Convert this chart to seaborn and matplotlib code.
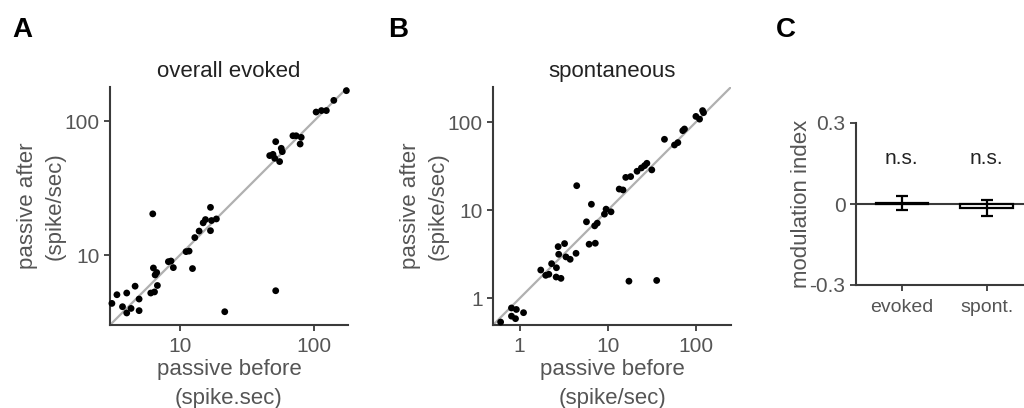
import numpy as np
import pandas as pd
import matplotlib
matplotlib.use("Agg")
import matplotlib.pyplot as plt
from matplotlib.ticker import NullLocator, FixedLocator, FixedFormatter
import seaborn as sns

# ---------------- data ----------------
evoked_before = [3.1, 3.38, 4.0, 3.72, 4.0, 4.31, 4.62, 4.95, 4.95, 6.05,
                 6.45, 6.78, 6.52, 6.7, 6.33, 6.26, 8.19, 8.57, 8.92, 11.1,
                 11.7, 12.4, 12.9, 13.9, 14.9, 15.5, 16.9, 17.2, 16.9, 18.7,
                 21.6, 46.8, 49.5, 51.9, 51.0, 55.5, 57.1, 58.1, 51.9, 69.8,
                 73.8, 80.5, 79.0, 104, 114, 124, 141, 175]
evoked_after = [4.35, 5.05, 5.2, 4.11, 3.69, 3.99, 5.85, 4.69, 3.84, 5.2,
                5.3, 5.92, 7.1, 7.4, 8.0, 20.3, 8.92, 9.02, 8.05, 10.6,
                10.7, 7.92, 13.5, 15.1, 17.4, 18.4, 22.7, 18.1, 15.2, 18.6,
                3.77, 55.3, 56.5, 70.3, 52.8, 49.9, 62.7, 59.2, 5.41, 77.8,
                77.8, 75.7, 67.5, 117, 120, 120, 143, 169]

spont_before = [0.61, 0.81, 0.92, 0.81, 0.90, 1.11, 1.74, 1.98, 2.15, 2.31,
                2.62, 2.60, 2.95, 2.74, 2.78, 3.24, 3.36, 3.75, 4.37, 4.45,
                5.74, 6.15, 7.23, 6.53, 7.11, 7.61, 9.18, 9.58, 10.9, 13.5,
                14.9, 16.0, 18.2, 17.4, 21.5, 24.1, 26.2, 27.8, 31.6, 35.9,
                44.0, 57.2, 62.4, 74.2, 71.0, 100, 110, 119, 122]
spont_after = [0.54, 0.78, 0.75, 0.63, 0.59, 0.69, 2.10, 1.83, 1.88, 2.48,
               2.23, 1.75, 1.69, 3.87, 3.17, 4.19, 2.96, 2.78, 3.25, 19.0,
               7.40, 4.12, 4.23, 11.7, 6.66, 7.14, 9.04, 10.3, 9.61, 17.4,
               17.0, 23.6, 24.1, 1.57, 27.7, 30.2, 32.1, 34.1, 28.7, 1.60,
               63.8, 55.0, 58.5, 83.5, 80.0, 116, 108, 135, 128]

mod_categories = ["evoked", "spont."]
mod_means = [0.003, -0.015]
mod_sem = [0.025, 0.028]

evoked_ticks = [10, 100]
evoked_ticklabels = ["10", "100"]
spont_ticks = [1, 10, 100]
spont_ticklabels = ["1", "10", "100"]
mod_ticks = [-0.3, 0, 0.3]
mod_ticklabels = ["-0.3", "0", "0.3"]

evoked_lim = [3.0, 180.0]
spont_lim = [0.5, 250.0]

# ---------------- style ----------------
sns.set_style("ticks")
plt.rcParams["font.family"] = ["Liberation Sans", "DejaVu Sans"]
SPINE = "#3a3a3a"
TXT = "#555555"
plt.rcParams.update({
    "axes.edgecolor": SPINE,
    "axes.linewidth": 1.5,
    "xtick.color": SPINE,
    "ytick.color": SPINE,
    "xtick.labelcolor": TXT,
    "ytick.labelcolor": TXT,
    "xtick.major.size": 4,
    "ytick.major.size": 4,
    "xtick.major.width": 1.3,
    "ytick.major.width": 1.3,
    "xtick.labelsize": 15,
    "ytick.labelsize": 15,
    "axes.labelcolor": TXT,
    "axes.labelsize": 16,
})

fig = plt.figure(figsize=(10.24, 4.08), dpi=100)
W, H = 1024.0, 408.0


def box(x0, y0, x1, y1):
    return [x0 / W, 1 - y1 / H, (x1 - x0) / W, (y1 - y0) / H]


def scatter_panel(ax, xs, ys, lim, ticks, ticklabels, xlabel):
    df = pd.DataFrame({"before": xs, "after": ys})
    sns.lineplot(x=lim, y=lim, ax=ax, color="#b0b0b0", lw=1.6, zorder=1)
    sns.scatterplot(data=df, x="before", y="after", ax=ax, color="black",
                    s=24, edgecolor="none", zorder=3, clip_on=False)
    ax.set_xscale("log")
    ax.set_yscale("log")
    ax.set_xlim(lim)
    ax.set_ylim(lim)
    for axis in (ax.xaxis, ax.yaxis):
        axis.set_major_locator(FixedLocator(ticks))
        axis.set_major_formatter(FixedFormatter(ticklabels))
        axis.set_minor_locator(NullLocator())
    ax.tick_params(axis="x", pad=4.5)
    ax.set_xlabel(xlabel, linespacing=1.55, labelpad=2)
    ax.set_ylabel("passive after\n(spike/sec)", linespacing=1.45, labelpad=-1)
    sns.despine(ax=ax)


axA = fig.add_axes(box(110, 87, 348, 325))
scatter_panel(axA, evoked_before, evoked_after, evoked_lim, evoked_ticks,
              evoked_ticklabels, "passive before\n(spike.sec)")
axB = fig.add_axes(box(493, 87, 731, 325))
scatter_panel(axB, spont_before, spont_after, spont_lim, spont_ticks,
              spont_ticklabels, "passive before\n(spike/sec)")

axA.set_title("overall evoked", fontsize=16, color="#222222", pad=7)
axB.set_title("spontaneous", fontsize=16, color="#222222", pad=7)

# ---------------- panel C ----------------
axC = fig.add_axes(box(856, 123, 1024, 285))
dfc = pd.DataFrame({"cond": mod_categories, "mi": mod_means})
sns.barplot(data=dfc, x="cond", y="mi", hue="cond",
            palette=["black", "white"], edgecolor="black", linewidth=1.6,
            width=0.62, legend=False, ax=axC, zorder=2)
axC.errorbar(x=np.arange(len(mod_categories)), y=mod_means, yerr=mod_sem,
             fmt="none", ecolor="black", elinewidth=1.6, capsize=4,
             capthick=1.6, zorder=4)
axC.axhline(0, color=SPINE, lw=1.5, zorder=1)
axC.set_ylim(-0.3, 0.3)
axC.set_xlim(-0.54, 1.44)
axC.yaxis.set_major_locator(FixedLocator(mod_ticks))
axC.yaxis.set_major_formatter(FixedFormatter(mod_ticklabels))
axC.set_xlabel("")
axC.set_ylabel("modulation index", labelpad=-2)
axC.tick_params(axis="x", labelsize=14, pad=6)
for i, _ in enumerate(mod_categories):
    axC.text(i, 0.17, "n.s.", ha="center", va="center", fontsize=15,
             color="#222222")
sns.despine(ax=axC)

# panel letters
for lab, x in (("A", 12), ("B", 388), ("C", 776)):
    fig.text(x / W, 1 - 30 / H, lab, fontsize=20, fontweight="bold",
             ha="left", va="center", color="black")

fig.savefig("out.png", dpi=100)
